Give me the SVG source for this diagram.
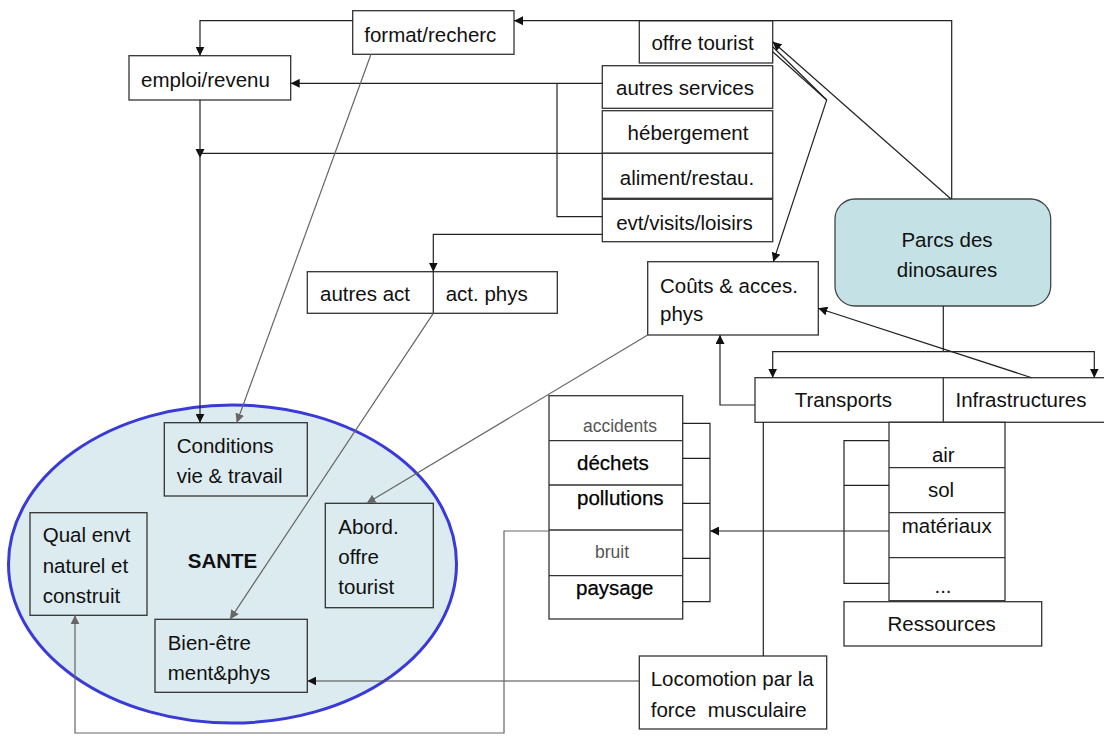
<svg xmlns="http://www.w3.org/2000/svg" width="1104" height="736" viewBox="0 0 1104 736">
<defs>
<marker id="ab" viewBox="0 0 10 10" refX="10" refY="5" markerWidth="9" markerHeight="9" markerUnits="userSpaceOnUse" orient="auto"><path d="M0,0 L10,5 L0,10 z" fill="#111"/></marker>
<marker id="ag" viewBox="0 0 10 10" refX="10" refY="5" markerWidth="9" markerHeight="9" markerUnits="userSpaceOnUse" orient="auto"><path d="M0,0 L10,5 L0,10 z" fill="#666"/></marker>
</defs>
<style>
.box{fill:#fff;stroke:#333;stroke-width:1.3}
.ibox{fill:none;stroke:#333;stroke-width:1.3}
.t{font-family:"Liberation Sans",Arial,sans-serif;font-size:20.5px;fill:#111}
.tb{font-family:"Liberation Sans",Arial,sans-serif;font-size:20.5px;fill:#000;stroke:#000;stroke-width:0.25}
.ts{font-family:"Liberation Sans",Arial,sans-serif;font-size:17.5px;fill:#555}
.m{text-anchor:middle}
.c{fill:none;stroke:#222;stroke-width:1.2}
.g{fill:none;stroke:#666;stroke-width:1.2}
</style>
<rect width="1104" height="736" fill="#fff"/>

<g id="sante">
<ellipse cx="232.5" cy="564" rx="224" ry="159" fill="#dcebf0" stroke="#3a3ad8" stroke-width="3"/>
<text class="t m" x="222.5" y="568" style="font-weight:bold">SANTE</text>
</g>
<g id="conditions"><rect class="ibox" x="164.3" y="422.7" width="143" height="73.3"/>
<text class="t" x="176.7" y="453.3">Conditions</text><text class="t" x="176.7" y="483.3">vie &amp; travail</text></g>
<g id="qual"><rect class="ibox" x="30" y="512.7" width="117" height="102.6"/>
<text class="t" x="42.7" y="542.3">Qual envt</text><text class="t" x="42.7" y="573.3">naturel et</text><text class="t" x="42.7" y="603.3">construit</text></g>
<g id="abord"><rect class="ibox" x="325.3" y="503.3" width="108" height="104.4"/>
<text class="t" x="338.3" y="534">Abord.</text><text class="t" x="338.3" y="564">offre</text><text class="t" x="338.3" y="594">tourist</text></g>
<g id="bienetre"><rect class="ibox" x="155" y="619.3" width="152.3" height="73"/>
<text class="t" x="167.7" y="650">Bien-être</text><text class="t" x="167.7" y="680">ment&amp;phys</text></g>

<g id="format"><rect class="box" x="352.7" y="10.7" width="161.3" height="43.6"/><text class="t m" x="430.3" y="42.3">format/recherc</text></g>
<g id="emploi"><rect class="box" x="129" y="55.7" width="161.7" height="44.3"/><text class="t m" x="205.5" y="87.3">emploi/revenu</text></g>
<g id="offre"><rect class="box" x="639.3" y="20.7" width="133.4" height="42.3"/><text class="t m" x="702.5" y="50">offre tourist</text></g>
<g id="services"><rect class="box" x="602.3" y="65.7" width="170.4" height="42.6"/><text class="t m" x="685" y="95">autres services</text></g>
<g id="hebergement"><rect class="box" x="602.3" y="110.7" width="170.4" height="42.6"/><text class="t m" x="688" y="140">hébergement</text></g>
<g id="aliment"><rect class="box" x="602.3" y="153.3" width="170.4" height="45"/><text class="t m" x="687" y="185">aliment/restau.</text></g>
<g id="evt"><rect class="box" x="602.3" y="199.3" width="170.4" height="42.4"/><text class="t m" x="684.5" y="230">evt/visits/loisirs</text></g>
<g id="parcs"><rect x="835" y="199" width="215.7" height="107" rx="20" fill="#c4e2e6" stroke="#444" stroke-width="1.3"/>
<text class="t m" x="947" y="246.7">Parcs des</text><text class="t m" x="947" y="276.7">dinosaures</text></g>
<g id="couts"><rect class="box" x="647.7" y="261.7" width="170.6" height="73.3"/>
<text class="t" x="660" y="292.7">Coûts &amp; acces.</text><text class="t" x="660" y="321">phys</text></g>
<g id="activites"><rect class="box" x="307.3" y="271.7" width="250" height="41.6"/><line x1="433.3" y1="271.7" x2="433.3" y2="313.3" stroke="#333" stroke-width="1.3"/>
<text class="t" x="320" y="301">autres act</text><text class="t" x="445.7" y="301">act. phys</text></g>
<g id="transports"><rect class="box" x="755" y="377.7" width="352" height="44.6"/><line x1="943.3" y1="377.7" x2="943.3" y2="422.3" stroke="#333" stroke-width="1.3"/>
<text class="t m" x="843.3" y="407.3">Transports</text><text class="t m" x="1021" y="407.3">Infrastructures</text></g>
<g id="nuisances"><rect class="box" x="549" y="395.7" width="133.7" height="223.3"/>
<path d="M549,440.7H682.7M549,485H682.7M549,530H682.7M549,575.7H682.7" stroke="#333" stroke-width="1.3"/>
<text class="ts" x="583" y="431.7">accidents</text>
<text class="tb" x="577" y="470">déchets</text>
<text class="tb" x="577" y="505">pollutions</text>
<text class="ts" x="595" y="557.7">bruit</text>
<text class="tb" x="576" y="595">paysage</text></g>
<g id="milieux"><rect class="box" x="889" y="422.3" width="116" height="178.4"/>
<path d="M889,467.7H1005M889,512.7H1005M889,557.7H1005" stroke="#333" stroke-width="1.3"/>
<text class="t m" x="943.3" y="461.7">air</text><text class="t m" x="941" y="497.3">sol</text><text class="t m" x="946.7" y="532.7">matériaux</text><text class="t m" x="943" y="593.3">...</text></g>
<g id="ressources"><rect class="box" x="844" y="601.7" width="197.7" height="44.3"/><text class="t m" x="941.7" y="631">Ressources</text></g>
<g id="locomotion"><rect class="box" x="639.3" y="656" width="187.4" height="73"/>
<text class="t" x="650.7" y="686">Locomotion par la</text><text class="t" x="650.7" y="716.7" xml:space="preserve">force  musculaire</text></g>

<g id="connectors">
<path class="c" d="M352.7,20.7H200V55.7" marker-end="url(#ab)"/>
<path class="c" d="M951.7,199V20.7H514" marker-end="url(#ab)"/>
<path class="c" d="M951,199L772.7,41.7" marker-end="url(#ab)"/>
<path class="c" d="M772.7,46.7L826.7,100L773.3,261.7" marker-end="url(#ab)"/>
<path class="c" d="M772.7,51.7L826.7,100"/>
<path class="c" d="M602.3,83.3H290.7" marker-end="url(#ab)"/>
<path class="c" d="M557,83.3V216.7H602.3"/>
<path class="c" d="M602.3,153.3H200"/>
<path d="M195.5,149L204.5,149L200,158z" fill="#111"/>
<path class="c" d="M200,100V422.7" marker-end="url(#ab)"/>
<path class="g" d="M371,54.3L236.7,422.7" marker-end="url(#ag)"/>
<path class="c" d="M602.3,234.3H433.3V271.7" marker-end="url(#ab)"/>
<path class="g" d="M433.3,313.3L230,619.3" marker-end="url(#ag)"/>
<path class="g" d="M647.7,335L366.7,503.3" marker-end="url(#ag)"/>
<path class="c" d="M943.3,306V351.7"/>
<path class="c" d="M943.3,351.7H772.7V377.7" marker-end="url(#ab)"/>
<path class="c" d="M943.3,351.7H1094.3V377.7" marker-end="url(#ab)"/>
<path class="c" d="M1031.7,377.7L818.3,308.3" marker-end="url(#ab)"/>
<path class="c" d="M755,405H720V335" marker-end="url(#ab)"/>
<path class="c" d="M763.3,422.3V656"/>
<path class="c" d="M889,531H710" marker-end="url(#ab)"/>
<path class="c" d="M682.7,423.3H710V601.7H682.7M682.7,458.3H710M682.7,503.3H710M682.7,558.3H710"/>
<path class="c" d="M889,440.7H844V583.3H889M844,485.3H889"/>
<path class="c" style="stroke:#444" d="M639.3,681H307.3" marker-end="url(#ab)"/>
<path class="g" d="M549,531H504V733H75V615.3" marker-end="url(#ag)"/>
</g>
</svg>
